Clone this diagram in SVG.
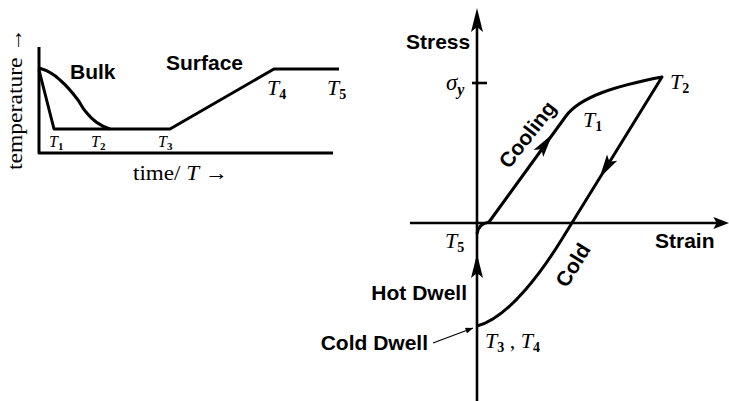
<svg xmlns="http://www.w3.org/2000/svg" width="729" height="401" viewBox="0 0 729 401">
<defs>
<style>
.ln{fill:none;stroke:#000;stroke-width:3;stroke-linejoin:round;stroke-linecap:butt}
.ax{fill:none;stroke:#000;stroke-width:2.6}
.thin{fill:none;stroke:#000;stroke-width:1.2}
.lb{font-family:"Liberation Sans",Arial,sans-serif;font-weight:bold;font-size:21px;fill:#000}
.sf{font-family:"Liberation Serif","Times New Roman",serif;fill:#000}
.it{font-style:italic}
.sub{font-size:14px;font-weight:bold}
</style>
<path id="ah" d="M0,0 L-24,-6 L-19,0 L-24,6 Z" fill="#000"/>
<marker id="sm" viewBox="0 0 10 8" refX="10" refY="4" markerWidth="8" markerHeight="6" markerUnits="userSpaceOnUse" orient="auto">
<path d="M0,0 L10,4 L0,8 Z" fill="#000"/>
</marker>
</defs>

<g id="temperature-graph">
<path class="ln" d="M39,47 L39,153 L333,153"/>
<path class="ln" d="M39,70 L54,129 L170,129 L274,69 L339,69"/>
<path class="ln" d="M39,68 C46,70 54,74 60,80 C67,86 72,92 78,100 C81,104 82,108 86,112 C93,121 100,126 110,129"/>
<text class="lb" x="70" y="79" font-size="20">Bulk</text>
<text class="lb" x="166" y="70" font-size="20">Surface</text>
<text class="sf" transform="translate(22,170) rotate(-90)" font-size="21" textLength="142" lengthAdjust="spacingAndGlyphs">temperature →</text>
<text class="sf" x="133" y="180" font-size="21" textLength="95" lengthAdjust="spacingAndGlyphs">time/ <tspan class="it">T</tspan> →</text>
<text class="sf" x="49" y="147" font-size="16"><tspan class="it">T</tspan><tspan font-size="11" dy="3" font-weight="bold">1</tspan></text>
<text class="sf" x="91" y="147" font-size="16"><tspan class="it">T</tspan><tspan font-size="11" dy="3" font-weight="bold">2</tspan></text>
<text class="sf" x="158" y="147" font-size="16"><tspan class="it">T</tspan><tspan font-size="11" dy="3" font-weight="bold">3</tspan></text>
<text class="sf" x="267" y="95" font-size="22"><tspan class="it">T</tspan><tspan class="sub" dy="4">4</tspan></text>
<text class="sf" x="327" y="95" font-size="22"><tspan class="it">T</tspan><tspan class="sub" dy="4">5</tspan></text>
</g>

<g id="connectors">
<path class="ax" d="M477,401 L477,22"/>
<use href="#ah" transform="translate(477,8) rotate(-90)"/>
<path class="ax" d="M410,223 L718,223"/>
<use href="#ah" transform="translate(729,223) scale(0.65,1)"/>
<path class="ax" d="M472,83 L487,83"/>
<use href="#ah" transform="translate(477,254) rotate(-90)"/>
<path class="ln" stroke-width="2.6" d="M477,234 Q478,224 489,222 L566,116 C580,97 615,86 662,77 L562,239 C546,265 510,318 477,326"/>
<use href="#ah" transform="translate(552.5,134) rotate(-54)" />
<use href="#ah" transform="translate(599.5,178) rotate(121.7)" />
<path class="thin" d="M433,343 L473,328" marker-end="url(#sm)"/>
</g>

<g id="stress-strain-labels">
<text class="lb" x="406" y="49">Stress</text>
<text class="lb" x="655" y="248">Strain</text>
<text class="lb" x="467" y="300" text-anchor="end">Hot Dwell</text>
<text class="lb" x="428" y="350" text-anchor="end">Cold Dwell</text>
<text class="lb" transform="translate(533,139) rotate(-52)" text-anchor="middle">Cooling</text>
<text class="lb" transform="translate(579,269) rotate(-58)" text-anchor="middle">Cold</text>
<text class="sf" x="446" y="90" font-size="23"><tspan class="it">σ</tspan><tspan class="it" font-size="16" dy="5" font-weight="bold">y</tspan></text>
<text class="sf" x="670" y="89" font-size="22"><tspan class="it">T</tspan><tspan class="sub" dy="4">2</tspan></text>
<text class="sf" x="583" y="127" font-size="22"><tspan class="it">T</tspan><tspan class="sub" dy="4">1</tspan></text>
<text class="sf" x="445" y="248" font-size="22"><tspan class="it">T</tspan><tspan class="sub" dy="4">5</tspan></text>
<text class="sf" x="485" y="348" font-size="22"><tspan class="it">T</tspan><tspan class="sub" dy="4">3</tspan><tspan dy="-4"> , </tspan><tspan class="it">T</tspan><tspan class="sub" dy="4">4</tspan></text>
</g>
</svg>
